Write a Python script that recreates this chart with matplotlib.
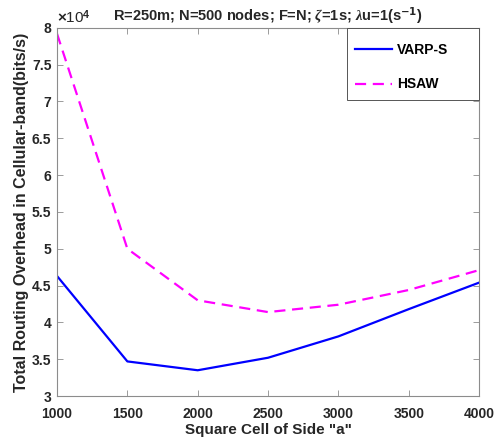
import matplotlib
matplotlib.use("Agg")
import matplotlib.pyplot as plt
from matplotlib.patches import Rectangle
from matplotlib.ticker import FuncFormatter, MultipleLocator

plt.rcParams['font.family'] = ['Liberation Sans', 'DejaVu Sans']
plt.rcParams['font.weight'] = 'bold'
plt.rcParams['mathtext.fontset'] = 'custom'
plt.rcParams['mathtext.it'] = 'Liberation Serif:italic'
plt.rcParams['mathtext.rm'] = 'Liberation Sans:bold'

# Data (values in units of 1e4 bits/s)
cell_side = [1000, 1500, 2000, 2500, 3000, 3500, 4000]
varp_s = [4.63, 3.47, 3.35, 3.52, 3.81, 4.18, 4.54]
hsaw = [7.92, 5.00, 4.30, 4.14, 4.24, 4.44, 4.71]
series_labels = ["VARP-S", "HSAW"]

fig = plt.figure(figsize=(4.98, 4.42), dpi=100)
ax = fig.add_axes([0.1145, 0.104, 0.8475, 0.833])

ax.plot(cell_side, varp_s, color='#0000ff', linewidth=1.6, label=series_labels[0])
ax.plot(cell_side, hsaw, color='#ff00ff', linewidth=1.6, linestyle=(0, (5, 3)), label=series_labels[1])

ax.set_xlim(1000, 4000)
ax.set_ylim(3, 8)
ax.xaxis.set_major_locator(MultipleLocator(500))
ax.yaxis.set_major_locator(MultipleLocator(0.5))
ax.yaxis.set_major_formatter(FuncFormatter(lambda v, p: f"{v:g}"))

for s in ax.spines.values():
    s.set_color('#8c8c8c')
    s.set_linewidth(0.8)
ax.tick_params(direction='in', length=4, width=0.6, color='#8c8c8c',
               labelsize=10, labelcolor='#262626', top=True, right=True)
ax.tick_params(axis='x', pad=8)
ax.tick_params(axis='y', pad=4)
for lab in ax.get_xticklabels() + ax.get_yticklabels():
    lab.set_fontweight('bold')

ax.set_xlabel('Square Cell of Side "a"', fontsize=11, fontweight='bold', color='#262626', labelpad=1)
ax.set_ylabel('Total Routing Overhead in Cellular-band(bits/s)', fontsize=11.5, fontweight='bold',
              color='#262626', labelpad=2)
ax.set_title(r'R=250m; N=500 nodes; F=N; $\zeta$=1s; $\lambda$u=1(s$^{\mathbf{-1}}$)',
             fontsize=10.5, fontweight='bold', color='#262626', pad=5)
ax.text(0.0, 1.005, r'$\times$10$^{4}$', transform=ax.transAxes, fontsize=11,
        color='#262626', ha='left', va='bottom', fontweight='normal')

# Legend box (drawn separately to mimic MATLAB's wide legend frame)
box = Rectangle((0.687, 0.803), 0.313, 0.197, transform=ax.transAxes, facecolor='white',
                edgecolor='#555555', linewidth=0.7, zorder=4, clip_on=False)
ax.add_patch(box)
leg = ax.legend(loc='upper left', bbox_to_anchor=(0.706, 0.96), borderaxespad=0, borderpad=0,
                frameon=False, labelspacing=1.5, handlelength=2.66,
                handletextpad=0.36, prop={'weight': 'bold', 'size': 10})
leg.set_zorder(5)

fig.savefig('out.png', dpi=100)
